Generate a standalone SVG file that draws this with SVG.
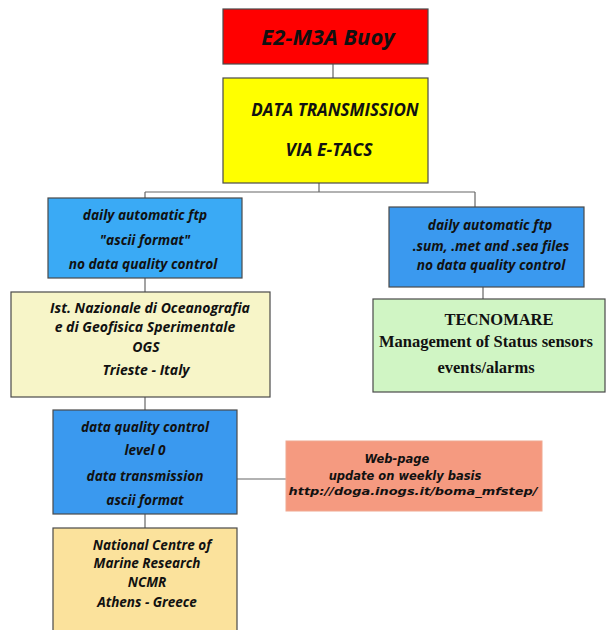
<svg xmlns="http://www.w3.org/2000/svg" width="606" height="630" viewBox="0 0 606 630">
<style>
.box{stroke:#4a4a4a;stroke-width:1.2}
.t{font-family:"Open Sans","DejaVu Sans",sans-serif;font-weight:bold;font-style:italic;fill:#111;text-anchor:middle}
.s{font-family:"Liberation Serif",serif;font-weight:bold;fill:#111;text-anchor:middle}
.w{font-family:"DejaVu Sans",sans-serif;font-weight:bold;font-style:italic;fill:#111;text-anchor:middle}
.c{stroke:#666;stroke-width:1.2;fill:none}
</style>
<rect width="606" height="630" fill="#fff"/>
<g id="connectors">
<line class="c" x1="333" y1="64" x2="333" y2="78"/>
<line class="c" x1="319" y1="183" x2="319" y2="192"/>
<line class="c" x1="145" y1="192" x2="475" y2="192"/>
<line class="c" x1="145" y1="192" x2="145" y2="198"/>
<line class="c" x1="475" y1="192" x2="475" y2="207"/>
<line class="c" x1="483" y1="287" x2="483" y2="299"/>
<line class="c" x1="145" y1="278" x2="145" y2="292"/>
<line class="c" x1="145" y1="397" x2="145" y2="410"/>
<line class="c" x1="237" y1="479" x2="286" y2="479"/>
<line class="c" x1="145" y1="514" x2="145" y2="528"/>
</g>
<g id="buoy">
<rect class="box" x="223" y="9" width="205" height="55" fill="#ff0000"/>
<text class="t" x="328" y="45" font-size="22">E2-M3A Buoy</text>
</g>
<g id="transmission">
<rect class="box" x="223" y="78" width="205" height="105" fill="#ffff00"/>
<text class="t" x="335" y="116" font-size="17">DATA TRANSMISSION</text>
<text class="t" x="329" y="156" font-size="17.5">VIA E-TACS</text>
</g>
<g id="ftp-ascii">
<rect class="box" x="48" y="198" width="194" height="80" fill="#3aaaf5"/>
<text class="t" x="145" y="220" font-size="13.7">daily automatic ftp</text>
<text class="t" x="145" y="245" font-size="13.7">"ascii format"</text>
<text class="t" x="143" y="269" font-size="13.7">no data quality control</text>
</g>
<g id="ogs">
<rect class="box" x="11" y="292" width="259" height="105" fill="#f7f5c8"/>
<text class="t" x="150" y="313" font-size="14">Ist. Nazionale di Oceanografia</text>
<text class="t" x="145" y="332" font-size="14">e di Geofisica Sperimentale</text>
<text class="t" x="146" y="352" font-size="14">OGS</text>
<text class="t" x="146" y="375" font-size="14">Trieste - Italy</text>
</g>
<g id="ftp-files">
<rect class="box" x="389" y="207" width="195" height="80" fill="#3a99ef"/>
<text class="t" x="490" y="230" font-size="13.7">daily automatic ftp</text>
<text class="t" x="491" y="251" font-size="13.7">.sum, .met and .sea files</text>
<text class="t" x="491" y="270" font-size="13.7">no data quality control</text>
</g>
<g id="tecnomare">
<rect class="box" x="373" y="299" width="232" height="93" fill="#d0f5c4"/>
<text class="s" x="499" y="325" font-size="16.5">TECNOMARE</text>
<text class="s" x="486" y="347" font-size="16.5">Management of Status sensors</text>
<text class="s" x="486" y="373" font-size="16.5">events/alarms</text>
</g>
<g id="qc">
<rect class="box" x="53" y="410" width="184" height="104" fill="#3a99ef"/>
<text class="t" x="145" y="432" font-size="13.6">data quality control</text>
<text class="t" x="145" y="455" font-size="13.6">level 0</text>
<text class="t" x="145" y="481" font-size="13.6">data transmission</text>
<text class="t" x="145" y="505" font-size="13.6">ascii format</text>
</g>
<g id="webpage">
<rect x="286" y="441" width="256" height="70" fill="#f59a80" stroke="#f0a890" stroke-width="1"/>
<text class="w" x="397" y="463" font-size="11.5">Web-page</text>
<text class="w" x="405" y="480" font-size="11.5">update on weekly basis</text>
<text class="w" x="413" y="495" font-size="11" textLength="249" lengthAdjust="spacingAndGlyphs">http://doga.inogs.it/boma_mfstep/</text>
</g>
<g id="ncmr">
<rect class="box" x="53" y="528" width="184" height="110" fill="#fbe29c" stroke="#c8b890"/>
<text class="t" x="152" y="550" font-size="13.5">National Centre of</text>
<text class="t" x="147" y="568" font-size="13.5">Marine Research</text>
<text class="t" x="147" y="587" font-size="13.5">NCMR</text>
<text class="t" x="147" y="607" font-size="13.5">Athens - Greece</text>
</g>
</svg>
